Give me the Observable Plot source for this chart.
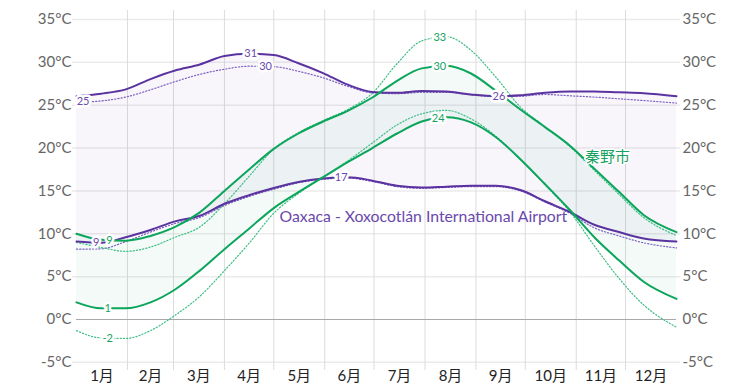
<!DOCTYPE html>
<html><head><meta charset="utf-8">
<script src="https://cdn.jsdelivr.net/npm/d3@7"></script>
<script src="https://cdn.jsdelivr.net/npm/@observablehq/plot@0.6"></script>
<style>
html,body{margin:0;padding:0;background:#fff;}
#chart svg{display:block;}
</style>
</head><body><div id="chart"></div>
<script>
// Day of year sample points
const days = [0,15,30,45,60,75,90,105,120,135,150,165,180,195,210,225,240,255,270,285,300,315,330,345,365];

// Oaxaca - Xoxocotlán International Airport (°C)
const oaxacaHigh      = [26.05,26.35,26.85,28.05,29.05,29.75,30.75,31.0,30.85,29.9,28.75,27.4,26.55,26.45,26.65,26.6,26.25,26.05,26.15,26.45,26.6,26.6,26.5,26.4,26.05];
const oaxacaHighDot   = [25.35,25.5,25.95,26.8,27.75,28.6,29.2,29.55,29.5,28.95,28.2,27.2,26.45,26.35,26.5,26.5,26.2,26.0,26.05,26.25,26.1,25.95,25.75,25.55,25.25];
const oaxacaLow       = [9.1,8.95,9.6,10.45,11.45,12.1,13.5,14.5,15.35,16.05,16.45,16.6,16.2,15.6,15.4,15.5,15.6,15.6,15.1,13.8,12.55,11.05,10.2,9.45,9.1];
const oaxacaLowDot    = [8.2,8.25,9.1,10.2,11.2,11.9,13.3,14.35,15.2,15.95,16.35,16.5,16.1,15.5,15.3,15.4,15.5,15.5,15.0,13.7,12.4,10.7,9.75,8.95,8.35];

// 秦野市 (°C)
const hadanoHigh      = [10.0,9.3,9.2,9.75,10.8,12.5,15.0,17.5,19.9,21.7,23.1,24.35,25.9,27.85,29.3,29.6,28.7,26.7,24.5,22.45,20.3,17.6,14.9,12.2,10.2];
const hadanoHighDot   = [9.0,8.4,7.95,8.45,9.6,10.8,13.5,16.7,19.9,21.8,23.2,24.5,26.4,29.85,32.5,33.0,31.4,28.3,24.8,22.5,20.2,17.4,14.6,11.9,9.8];
const hadanoLow       = [2.0,1.3,1.3,2.0,3.5,5.7,8.2,10.6,13.0,14.85,16.6,18.35,20.0,21.7,23.1,23.6,23.0,21.3,18.7,15.8,12.8,9.6,6.9,4.4,2.4];
const hadanoLowDot    = [-1.3,-2.15,-2.2,-1.3,0.5,2.7,5.7,8.9,12.4,14.7,16.6,18.5,20.6,22.7,24.0,24.4,23.4,21.4,18.7,15.7,12.6,8.6,4.8,1.7,-0.9];

// Axis labels
const months = ["1月","2月","3月","4月","5月","6月","7月","8月","9月","10月","11月","12月"];
const monthStarts = [0,31,59,90,120,151,181,212,243,273,304,334,365];
const yTicks = [-5,0,5,10,15,20,25,30,35];

// Series names
const seriesNames = ["Oaxaca - Xoxocotlán International Airport", "秦野市"];

// Value annotations (series, day, text)
const valueLabels = [
  {series:"oaxacaHighDot", day:4,   text:"25"},
  {series:"oaxacaHigh",    day:106, text:"31"},
  {series:"oaxacaHighDot", day:115, text:"30"},
  {series:"oaxacaLow",     day:161, text:"17"},
  {series:"oaxacaHigh",    day:257, text:"26"},
  {series:"oaxacaLow",     day:12,  text:"9"},
  {series:"hadanoHigh",    day:20,  text:"9"},
  {series:"hadanoLow",     day:19,  text:"1"},
  {series:"hadanoLowDot",  day:19,  text:"-2"},
  {series:"hadanoHigh",    day:221, text:"30"},
  {series:"hadanoHighDot", day:221, text:"33"},
  {series:"hadanoLow",     day:220, text:"24"}
];

const seriesMap = {oaxacaHigh, oaxacaHighDot, oaxacaLow, oaxacaLowDot, hadanoHigh, hadanoHighDot, hadanoLow, hadanoLowDot};
function valueAt(arr, d) {
  const i = d3.bisectRight(days, d) - 1;
  const j = Math.min(i + 1, days.length - 1);
  if (i === j) return arr[i];
  const t = (d - days[i]) / (days[j] - days[i]);
  return arr[i] + t * (arr[j] - arr[i]);
}

const rows = days.map((d, i) => ({
  day: d,
  oh: oaxacaHigh[i], ohd: oaxacaHighDot[i], ol: oaxacaLow[i], old: oaxacaLowDot[i],
  hh: hadanoHigh[i], hhd: hadanoHighDot[i], hl: hadanoLow[i], hld: hadanoLowDot[i]
}));

const PURPLE = "#5b33a0", PURPLE_DOT = "#7e62bf", PURPLE_TXT = "#6a48ad";
const GREEN = "#0ba55b", GREEN_DOT = "#3dbf85", GREEN_TXT = "#17a262";
const isOax = s => s.startsWith("oaxaca");

const labelRows = valueLabels.map(l => ({...l, value: valueAt(seriesMap[l.series], l.day), color: isOax(l.series) ? PURPLE_TXT : GREEN_TXT}));

const monthMid = months.map((m, i) => (monthStarts[i] + monthStarts[i + 1]) / 2);
const FONT = "Lato, 'Noto Sans CJK JP', 'Noto Sans', sans-serif";
const curve = "monotone-x";

const dotted = (key, color) => Plot.line(rows, {x: "day", y: key, stroke: color, strokeWidth: 1.2, strokeDasharray: "1.2,2", curve});
const solid = (key, color) => Plot.line(rows, {x: "day", y: key, stroke: color, strokeWidth: 2, curve});

const chart = Plot.plot({
  width: 753,
  height: 387,
  marginLeft: 76,
  marginRight: 77,
  marginTop: 10,
  marginBottom: 17,
  style: {fontFamily: FONT, background: "#fff"},
  x: {domain: [0, 365], axis: null, label: null},
  y: {domain: [-5.95, 36.05], axis: null, label: null},
  marks: [
    Plot.ruleY(yTicks.filter(t => t !== 0), {stroke: "#ebebeb", strokeWidth: 1.5, insetLeft: -4, insetRight: -4}),
    Plot.ruleX(monthStarts.slice(1, -1), {stroke: "#dcdcdc", strokeWidth: 1}),
    Plot.areaY(rows, {x: "day", y1: "ol", y2: "oh", fill: PURPLE, fillOpacity: 0.045, curve}),
    Plot.areaY(rows, {x: "day", y1: "hl", y2: "hh", fill: GREEN, fillOpacity: 0.05, curve}),
    Plot.ruleY([0], {stroke: "#a8a8a8", strokeWidth: 1}),
    dotted("ohd", PURPLE_DOT), dotted("old", PURPLE_DOT),
    dotted("hhd", GREEN_DOT), dotted("hld", GREEN_DOT),
    solid("oh", PURPLE), solid("ol", PURPLE),
    solid("hh", GREEN), solid("hl", GREEN),
    Plot.text(labelRows, {x: "day", y: "value", text: "text", fill: "color", stroke: "white", strokeWidth: 5, paintOrder: "stroke", fontSize: 11, fontFamily: FONT}),
    Plot.text([seriesNames[0]], {x: 123.5, y: 12.0, text: d => d, textAnchor: "start", fill: PURPLE_TXT, fontSize: 15.8, fontFamily: FONT}),
    Plot.text([seriesNames[1]], {x: 323, y: 18.9, text: d => d, fill: GREEN_TXT, fontSize: 15, fontFamily: FONT, stroke: "white", strokeWidth: 3, paintOrder: "stroke"}),
    Plot.axisY(yTicks, {anchor: "left", tickSize: 0, tickPadding: 5, tickFormat: d => d + "°C", fontSize: 15, fill: "#666", fontFamily: FONT, label: null}),
    Plot.axisY(yTicks, {anchor: "right", tickSize: 0, tickPadding: 6, tickFormat: d => d + "°C", fontSize: 15, fill: "#666", fontFamily: FONT, label: null}),
    Plot.axisX(monthMid, {anchor: "bottom", tickSize: 0, tickPadding: 0, tickFormat: d => months[monthMid.indexOf(d)], fontSize: 15, fill: "#222", fontFamily: FONT, lineAnchor: "middle", dy: 6, label: null})
  ]
});
document.getElementById("chart").appendChild(chart);
</script>
</body></html>
